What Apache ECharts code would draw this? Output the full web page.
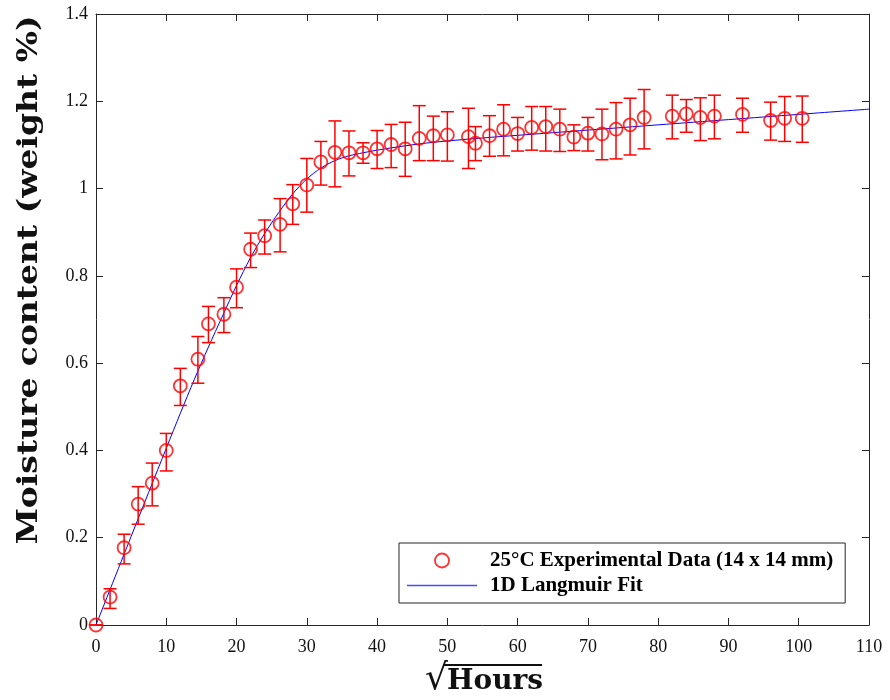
<!DOCTYPE html>
<html>
<head>
<meta charset="utf-8">
<script src="https://cdn.jsdelivr.net/npm/echarts@6/dist/echarts.min.js"></script>
<style>
  html, body { margin: 0; padding: 0; background: #fff; }
  #chart { width: 890px; height: 700px; }
</style>
</head>
<body>
<div id="chart"></div>
<script>
// Measured moisture uptake (sqrt hours vs weight %), with error bar bounds
const sqrtHours = [0, 2, 4, 6, 8, 10, 12, 14.5, 16, 18.2, 20, 22, 24, 26.2, 28, 30, 32, 34, 36, 38,
  40, 42, 44, 46, 48, 50, 53, 54, 56, 58, 60, 62, 64, 66, 68, 70, 72, 74, 76, 78,
  82, 84, 86, 88, 92, 96, 98, 100.5];
const moisture = [0, 0.064, 0.177, 0.277, 0.325, 0.400, 0.548, 0.609, 0.690, 0.712, 0.774, 0.861, 0.892, 0.918, 0.965, 1.008, 1.061, 1.083, 1.082, 1.082,
  1.091, 1.101, 1.091, 1.115, 1.121, 1.123, 1.119, 1.104, 1.121, 1.136, 1.126, 1.140, 1.142, 1.136, 1.118, 1.127, 1.125, 1.136, 1.146, 1.163,
  1.166, 1.171, 1.163, 1.166, 1.170, 1.156, 1.161, 1.161];
const errLower = [0, 0.038, 0.140, 0.231, 0.273, 0.353, 0.503, 0.554, 0.647, 0.670, 0.727, 0.819, 0.850, 0.855, 0.918, 0.946, 1.008, 1.004, 1.029, 1.058,
  1.046, 1.048, 1.028, 1.064, 1.064, 1.063, 1.046, 1.064, 1.074, 1.075, 1.086, 1.088, 1.086, 1.085, 1.087, 1.086, 1.066, 1.068, 1.077, 1.091,
  1.114, 1.129, 1.110, 1.114, 1.129, 1.111, 1.108, 1.106];
const errUpper = [0, 0.083, 0.208, 0.317, 0.371, 0.439, 0.588, 0.661, 0.730, 0.750, 0.816, 0.898, 0.928, 0.977, 1.009, 1.069, 1.108, 1.155, 1.132, 1.105,
  1.133, 1.147, 1.152, 1.190, 1.166, 1.176, 1.184, 1.142, 1.167, 1.192, 1.163, 1.188, 1.188, 1.182, 1.146, 1.163, 1.182, 1.197, 1.207, 1.227,
  1.214, 1.204, 1.208, 1.214, 1.207, 1.198, 1.211, 1.212];

// 1D Langmuir fit curve, sampled
const fitX = [0, 5, 10, 12, 14, 16, 18, 20, 22, 24, 26, 28, 30, 32, 34, 36, 38, 40, 44, 48, 55, 60, 70, 80, 90, 100, 110];
const fitY = [0, 0.203, 0.405, 0.485, 0.563, 0.637, 0.708, 0.778, 0.842, 0.897, 0.945, 0.988, 1.022, 1.047, 1.064, 1.075, 1.082, 1.088, 1.098, 1.106, 1.116, 1.122, 1.134, 1.146, 1.158, 1.170, 1.182];

const xTicks = { min: 0, max: 110, interval: 10 };
const yTicks = { min: 0, max: 1.4, interval: 0.2 };

const RED = '#ff0000';
const BLUE = '#0000ff';
const AXIS = '#262626';
const SERIF = '"Liberation Serif", "Times New Roman", serif';

const points = sqrtHours.map((x, i) => [x, moisture[i]]);
const bars = sqrtHours.map((x, i) => [x, errLower[i], errUpper[i]]);
const fit = fitX.map((x, i) => [x, fitY[i]]);

const chart = echarts.init(document.getElementById('chart'), null, { renderer: 'canvas' });

function axisCommon(show) {
  return {
    axisLine: { show: true, onZero: false, lineStyle: { color: AXIS, width: 1 } },
    axisTick: { show: true, inside: true, length: 7, lineStyle: { color: AXIS, width: 1 } },
    splitLine: { show: false },
    axisLabel: show
      ? { show: true, color: '#111', fontFamily: SERIF, fontSize: 18 }
      : { show: false }
  };
}

chart.setOption({
  animation: false,
  backgroundColor: '#fff',
  grid: { left: 96, right: 21, top: 14, bottom: 75, containLabel: false },
  xAxis: [
    Object.assign({ type: 'value', position: 'bottom' }, xTicks, axisCommon(true), {
      axisLabel: { show: true, color: '#111', fontFamily: SERIF, fontSize: 18, margin: 13 }
    }),
    Object.assign({ type: 'value', position: 'top' }, xTicks, axisCommon(false))
  ],
  yAxis: [
    Object.assign({ type: 'value', position: 'left' }, yTicks, axisCommon(true), {
      axisLabel: { show: true, color: '#111', fontFamily: SERIF, fontSize: 18, margin: 8 }
    }),
    Object.assign({ type: 'value', position: 'right' }, yTicks, axisCommon(false))
  ],
  legend: {
    orient: 'vertical',
    left: 399,
    top: 543,
    padding: [7, 12, 7, 8],
    itemGap: 4,
    itemWidth: 70,
    itemHeight: 14,
    backgroundColor: '#fff',
    borderColor: AXIS,
    borderWidth: 1,
    textStyle: { fontFamily: SERIF, fontWeight: 'bold', fontSize: 21, color: '#000', padding: [0, 0, 0, 8] },
    data: [
      { name: '25°C Experimental Data (14 x 14 mm)', icon: 'circle',
        itemStyle: { color: 'transparent', borderColor: RED, borderWidth: 1.8 } },
      { name: '1D Langmuir Fit', icon: 'path://M0,0 L70,0 L70,1.4 L0,1.4 Z',
        itemStyle: { color: '#4a4aff', borderWidth: 0 } }
    ]
  },
  series: [
    {
      name: '1D Langmuir Fit',
      type: 'line',
      data: fit,
      smooth: 0.3,
      showSymbol: false,
      symbol: 'none',
      lineStyle: { color: BLUE, width: 1 },
      itemStyle: { color: BLUE },
      z: 2
    },
    {
      name: 'errorbars',
      type: 'custom',
      data: bars,
      encode: { x: 0, y: [1, 2] },
      renderItem: function (params, api) {
        const x = api.value(0);
        const lo = api.coord([x, api.value(1)]);
        const hi = api.coord([x, api.value(2)]);
        const hw = 6.5;
        const style = { stroke: RED, lineWidth: 1.5, fill: null };
        return {
          type: 'group',
          children: [
            { type: 'line', shape: { x1: lo[0], y1: lo[1], x2: hi[0], y2: hi[1] }, style: style },
            { type: 'line', shape: { x1: hi[0] - hw, y1: hi[1], x2: hi[0] + hw, y2: hi[1] }, style: style },
            { type: 'line', shape: { x1: lo[0] - hw, y1: lo[1], x2: lo[0] + hw, y2: lo[1] }, style: style }
          ]
        };
      },
      z: 3
    },
    {
      name: '25°C Experimental Data (14 x 14 mm)',
      type: 'scatter',
      data: points,
      symbol: 'circle',
      symbolSize: 13,
      itemStyle: { color: 'transparent', borderColor: RED, borderWidth: 1.8 },
      z: 4
    }
  ],
  graphic: [
    {
      type: 'text',
      x: 30,
      y: 280,
      rotation: Math.PI / 2,
      scaleX: 1.22,
      style: {
        text: 'Moisture content (weight %)',
        fill: '#111',
        font: 'bold 27px "DejaVu Serif", serif',
        align: 'center',
        verticalAlign: 'middle'
      }
    },
    {
      type: 'text',
      x: 425,
      y: 662,
      style: { text: '√', fill: '#111', font: '36px "DejaVu Serif", serif' }
    },
    {
      type: 'line',
      shape: { x1: 444, y1: 665, x2: 542, y2: 665 },
      style: { stroke: '#111', lineWidth: 2 }
    },
    {
      type: 'text',
      x: 447,
      y: 668,
      style: { text: 'Hours', fill: '#111', font: 'bold 28px "DejaVu Serif", serif' }
    }
  ]
});
</script>
</body>
</html>
